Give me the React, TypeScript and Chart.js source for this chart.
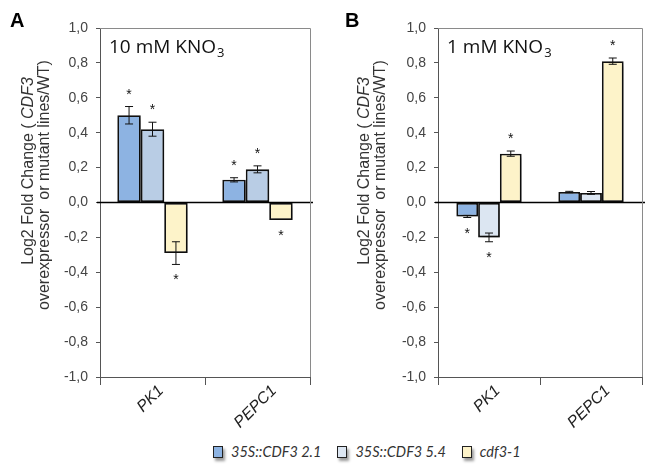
import React, { useEffect, useRef } from "react";
import { Chart, registerables } from "chart.js";

Chart.register(...registerables);

// ---------- data ----------
const categories = ["PK1", "PEPC1"];
const seriesLabels = ["35S::CDF3 2.1", "35S::CDF3 5.4", "cdf3-1"];

// Panel A: 10 mM KNO3
const aLine21 = [0.5, 0.13];
const aLine54 = [0.42, 0.19];
const aMutant = [-0.29, -0.1];
const aErr21 = [0.05, 0.012];
const aErr54 = [0.04, 0.02];
const aErrMutant = [0.065, 0.0];
const aSig21 = [true, true];
const aSig54 = [true, true];
const aSigMutant = [true, true];

// Panel B: 1 mM KNO3
const bLine21 = [-0.08, 0.06];
const bLine54 = [-0.2, 0.055];
const bMutant = [0.28, 0.81];
const bErr21 = [0.006, 0.004];
const bErr54 = [0.025, 0.008];
const bErrMutant = [0.015, 0.018];
const bSig21 = [true, false];
const bSig54 = [true, false];
const bSigMutant = [true, true];

const yMin = -1;
const yMax = 1;
const yStep = 0.2;

// ---------- styles ----------
const colBlue = "#8db3e2";
const colLightA = "#b9cde5";
const colLightB = "#dce6f2";
const colYellow = "#fdf3c9";
const FONT = '"Liberation Sans", Arial, sans-serif';

type Panel = {
  letter: string;
  titleMain: string;
  values: number[][];
  errors: number[][];
  sig: boolean[][];
  colors: string[];
  padRight: number;
  yAxisWidth: number;
  catPct: number;
  titleX: number[];
  titleY: number[];
  letterX: number;
};

const panelA: Panel = {
  letter: "A",
  titleMain: "10 mM KNO",
  values: [aLine21, aLine54, aMutant],
  errors: [aErr21, aErr54, aErrMutant],
  sig: [aSig21, aSig54, aSigMutant],
  colors: [colBlue, colLightA, colYellow],
  padRight: 15,
  yAxisWidth: 100,
  catPct: 0.67,
  titleX: [29, 45],
  titleY: [171, 185],
  letterX: 10,
};

const panelB: Panel = {
  letter: "B",
  titleMain: "1 mM KNO",
  values: [bLine21, bLine54, bMutant],
  errors: [bErr21, bErr54, bErrMutant],
  sig: [bSig21, bSig54, bSigMutant],
  colors: [colBlue, colLightB, colYellow],
  padRight: 8,
  yAxisWidth: 113,
  catPct: 0.64,
  titleX: [39.5, 56],
  titleY: [171, 185],
  letterX: 20,
};

function drawSegments(
  ctx: CanvasRenderingContext2D,
  segs: { text: string; font: string }[],
  cx: number,
  cy: number
) {
  ctx.save();
  ctx.translate(cx, cy);
  ctx.rotate(-Math.PI / 2);
  ctx.textBaseline = "middle";
  ctx.textAlign = "left";
  let total = 0;
  const widths = segs.map((s) => {
    ctx.font = s.font;
    const w = ctx.measureText(s.text).width;
    total += w;
    return w;
  });
  let pos = -total / 2;
  segs.forEach((s, i) => {
    ctx.font = s.font;
    ctx.fillText(s.text, pos, 0);
    pos += widths[i];
  });
  ctx.restore();
}

function makeChart(canvas: HTMLCanvasElement, p: Panel) {
  const decor = {
    id: "decor" + p.letter,
    beforeDatasetDraw(chart: any) {
      const ctx = chart.ctx;
      ctx.save();
      ctx.shadowColor = "rgba(0,0,0,0.35)";
      ctx.shadowBlur = 4;
      ctx.shadowOffsetX = 2;
      ctx.shadowOffsetY = 3;
    },
    afterDatasetDraw(chart: any) {
      chart.ctx.restore();
    },
    afterDatasetsDraw(chart: any) {
      const ctx = chart.ctx as CanvasRenderingContext2D;
      const ys = chart.scales.y;
      const area = chart.chartArea;
      // zero line
      const y0 = ys.getPixelForValue(0);
      ctx.save();
      ctx.strokeStyle = "#000";
      ctx.lineWidth = 1.5;
      ctx.beginPath();
      ctx.moveTo(area.left - 3, y0);
      ctx.lineTo(area.right + 3, y0);
      ctx.stroke();
      // error bars + stars
      p.values.forEach((vals, di) => {
        const meta = chart.getDatasetMeta(di);
        vals.forEach((v, j) => {
          const el = meta.data[j];
          const x = el.x;
          const e = p.errors[di][j];
          const yt = ys.getPixelForValue(v + e);
          const yb = ys.getPixelForValue(v - e);
          if (e > 0) {
            ctx.strokeStyle = "#111";
            ctx.lineWidth = 1;
            ctx.beginPath();
            ctx.moveTo(x, yt);
            ctx.lineTo(x, yb);
            ctx.moveTo(x - 4, yt);
            ctx.lineTo(x + 4, yt);
            ctx.moveTo(x - 4, yb);
            ctx.lineTo(x + 4, yb);
            ctx.stroke();
          }
          if (p.sig[di][j]) {
            ctx.fillStyle = "#111";
            ctx.font = "14px " + FONT;
            ctx.textAlign = "center";
            ctx.textBaseline = "alphabetic";
            if (v >= 0) {
              ctx.fillText("*", x, Math.min(yt, ys.getPixelForValue(v)) - 8);
            } else {
              ctx.fillText("*", x, Math.max(yb, ys.getPixelForValue(v)) + 20);
            }
          }
        });
      });
      ctx.restore();
    },
    afterDraw(chart: any) {
      const ctx = chart.ctx as CanvasRenderingContext2D;
      const area = chart.chartArea;
      const xs = chart.scales.x;
      ctx.save();
      // top & right frame
      ctx.strokeStyle = "#8a8a8a";
      ctx.lineWidth = 1;
      ctx.beginPath();
      ctx.moveTo(area.left, area.top + 0.5);
      ctx.lineTo(area.right + 0.5, area.top + 0.5);
      ctx.lineTo(area.right + 0.5, area.bottom);
      ctx.stroke();
      // category labels, rotated 45deg, centred under the category
      ctx.fillStyle = "#222";
      ctx.font = "italic 16px " + FONT;
      ctx.textAlign = "center";
      ctx.textBaseline = "middle";
      categories.forEach((c, i) => {
        const w = ctx.measureText(c).width;
        const cx = xs.getPixelForValue(i) - 2;
        const cy = area.bottom + 7 + ((w + 12) * 0.7071) / 2;
        ctx.save();
        ctx.translate(cx, cy);
        ctx.rotate(-Math.PI / 4);
        ctx.fillText(c, 0, 0);
        ctx.restore();
      });
      // panel letter
      ctx.fillStyle = "#000";
      ctx.font = "bold 20px " + FONT;
      ctx.textAlign = "left";
      ctx.textBaseline = "alphabetic";
      ctx.fillText(p.letter, p.letterX, 27);
      // panel title with subscript
      ctx.fillStyle = "#111";
      ctx.font = '19px "Open Sans", ' + FONT;
      const tx = area.left + 9;
      const ty = area.top + 25;
      ctx.fillText(p.titleMain, tx, ty);
      const w = ctx.measureText(p.titleMain).width;
      ctx.font = '13px "Open Sans", ' + FONT;
      ctx.fillText("3", tx + w + 1, ty + 4);
      // y-axis title (two lines)
      ctx.fillStyle = "#333";
      drawSegments(
        ctx,
        [
          { text: "Log2 Fold Change ( ", font: "16px " + FONT },
          { text: "CDF3", font: "italic 16px " + FONT },
        ],
        p.titleX[0],
        p.titleY[0]
      );
      drawSegments(
        ctx,
        [{ text: "overexpressor  or mutant lines/WT)", font: "16px " + FONT }],
        p.titleX[1],
        p.titleY[1]
      );
      ctx.restore();
    },
  };

  return new Chart(canvas, {
    type: "bar",
    data: {
      labels: categories,
      datasets: p.values.map((vals, i) => ({
        label: seriesLabels[i],
        data: vals,
        backgroundColor: p.colors[i],
        borderColor: "#111",
        borderWidth: 1.8,
        borderSkipped: false,
        barPercentage: 1,
        categoryPercentage: p.catPct,
      })),
    },
    options: {
      responsive: false,
      animation: false,
      devicePixelRatio: 1,
      layout: { padding: { top: 28, right: p.padRight, bottom: 0, left: 0 } },
      plugins: {
        legend: { display: false },
        tooltip: { enabled: false },
        title: { display: false },
      },
      scales: {
        x: {
          grid: {
            offset: true,
            drawOnChartArea: false,
            drawTicks: true,
            tickLength: 8,
            color: "#555",
          },
          border: { display: true, color: "#555", width: 1 },
          ticks: { display: false },
          afterFit(scale: any) {
            scale.height = 53;
          },
        },
        y: {
          min: yMin,
          max: yMax,
          grid: {
            drawOnChartArea: false,
            drawTicks: true,
            tickLength: 4,
            color: "#555",
          },
          border: { display: true, color: "#555", width: 1 },
          ticks: {
            stepSize: yStep,
            padding: 8,
            color: "#444",
            font: { family: FONT, size: 14 },
            callback: (v: any) => {
              const n = Math.round(Number(v) * 10) / 10;
              return n.toFixed(1).replace(".", ",");
            },
          },
          afterFit(scale: any) {
            scale.width = p.yAxisWidth;
          },
        },
      },
    },
    plugins: [decor],
  } as any);
}

function LegendItem({ color, label }: { color: string; label: string }) {
  return (
    <div style={{ display: "flex", alignItems: "center", marginRight: 16 }}>
      <div
        style={{
          width: 8,
          height: 10,
          background: color,
          border: "1.5px solid #222",
          boxShadow: "2px 3px 3px rgba(0,0,0,0.4)",
          marginRight: 8,
        }}
      />
      <span>{label}</span>
    </div>
  );
}

export default function App() {
  const refA = useRef<HTMLCanvasElement>(null);
  const refB = useRef<HTMLCanvasElement>(null);

  useEffect(() => {
    const cA = makeChart(refA.current!, panelA);
    const cB = makeChart(refB.current!, panelB);
    return () => {
      cA.destroy();
      cB.destroy();
    };
  }, []);

  return (
    <div
      style={{
        position: "absolute",
        left: 0,
        top: 0,
        width: 650,
        height: 475,
        background: "#fff",
        overflow: "hidden",
      }}
    >
      <canvas
        ref={refA}
        width={325}
        height={430}
        style={{ position: "absolute", left: 0, top: 0, width: 325, height: 430 }}
      />
      <canvas
        ref={refB}
        width={325}
        height={430}
        style={{ position: "absolute", left: 325, top: 0, width: 325, height: 430 }}
      />
      <div
        style={{
          position: "absolute",
          left: 213,
          top: 443,
          display: "flex",
          alignItems: "center",
          font: "italic 14.5px Lato, sans-serif",
          color: "#333",
          whiteSpace: "nowrap",
        }}
      >
        <LegendItem color={colBlue} label={seriesLabels[0]} />
        <LegendItem color={colLightB} label={seriesLabels[1]} />
        <LegendItem color={colYellow} label={seriesLabels[2]} />
      </div>
    </div>
  );
}
